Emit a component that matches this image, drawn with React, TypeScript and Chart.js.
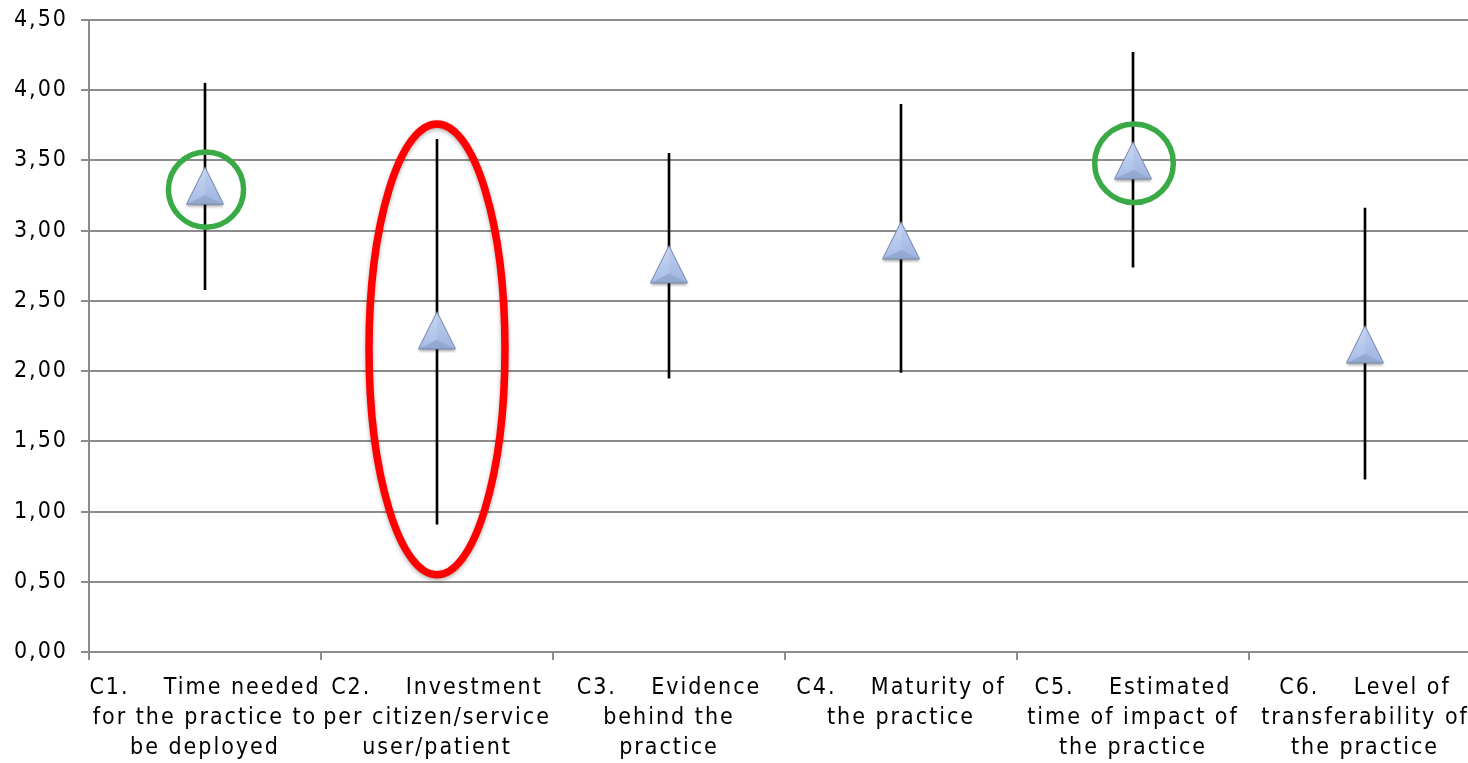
import React, { useEffect, useRef } from "react";
import { Chart, registerables } from "chart.js";
Chart.register(...registerables);

const categories: string[][] = [
  ["C1.    Time needed", "for the practice to", "be deployed"],
  ["C2.    Investment", "per citizen/service", "user/patient"],
  ["C3.    Evidence", "behind the", "practice"],
  ["C4.    Maturity of", "the practice"],
  ["C5.    Estimated", "time of impact of", "the practice"],
  ["C6.    Level of", "transferability of", "the practice"],
];
const meanValues = [3.32, 2.29, 2.76, 2.93, 3.5, 2.19];
const lowValues = [2.58, 0.91, 1.95, 1.99, 2.74, 1.23];
const highValues = [4.05, 3.65, 3.55, 3.9, 4.27, 3.16];
const yMin = 0;
const yMax = 4.5;
const yStep = 0.5;

// highlight marks: category index and vertical extent (value units)
const highlightIndex = [0, 1, 4];
const highlightLow = [3.025, 0.55, 3.2];
const highlightHigh = [3.56, 3.76, 3.76];
const highlightColor = ["#3aaa47", "#ff0000", "#3aaa47"];

const FONT = "'DejaVu Sans Condensed', 'DejaVu Sans', sans-serif";

function makeTriangle(): HTMLCanvasElement {
  const c = document.createElement("canvas");
  c.width = 46;
  c.height = 46;
  const g = c.getContext("2d")!;
  const cx = 23;
  const top = 4.5;
  const bot = 41.5;
  const half = 18.5;
  const ix = cx;
  const iy = top + (bot - top) * 0.76;
  g.save();
  g.shadowColor = "rgba(0,0,0,0.4)";
  g.shadowBlur = 3;
  g.shadowOffsetY = 2;
  g.beginPath();
  g.moveTo(cx, top);
  g.lineTo(cx + half, bot);
  g.lineTo(cx - half, bot);
  g.closePath();
  g.fillStyle = "#a9bee6";
  g.fill();
  g.restore();
  // left facet
  let gr = g.createLinearGradient(0, top, 0, bot);
  gr.addColorStop(0, "#c9d8f3");
  gr.addColorStop(1, "#a8bde6");
  g.beginPath();
  g.moveTo(cx, top);
  g.lineTo(ix, iy);
  g.lineTo(cx - half, bot);
  g.closePath();
  g.fillStyle = gr;
  g.fill();
  // right facet
  gr = g.createLinearGradient(0, top, 0, bot);
  gr.addColorStop(0, "#bfd0f0");
  gr.addColorStop(1, "#9fb5e0");
  g.beginPath();
  g.moveTo(cx, top);
  g.lineTo(cx + half, bot);
  g.lineTo(ix, iy);
  g.closePath();
  g.fillStyle = gr;
  g.fill();
  // bottom facet
  g.beginPath();
  g.moveTo(cx - half, bot);
  g.lineTo(ix, iy);
  g.lineTo(cx + half, bot);
  g.closePath();
  g.fillStyle = "#93a9d2";
  g.fill();
  // outline
  g.beginPath();
  g.moveTo(cx, top);
  g.lineTo(cx + half, bot);
  g.lineTo(cx - half, bot);
  g.closePath();
  g.strokeStyle = "#7488ad";
  g.lineWidth = 1;
  g.stroke();
  return c;
}

const spacingPlugin = {
  id: "spacing",
  beforeLayout(chart: any) {
    chart.ctx.letterSpacing = "2px";
  },
  beforeDraw(chart: any) {
    chart.ctx.letterSpacing = "2px";
  },
};

const highlightPlugin = {
  id: "highlights",
  afterDatasetsDraw(chart: any) {
    const ctx = chart.ctx;
    const x = chart.scales.x;
    const y = chart.scales.y;
    const catW = x.getPixelForValue(1) - x.getPixelForValue(0);
    highlightIndex.forEach((idx, k) => {
      const cxp = x.getPixelForValue(idx);
      const y1 = y.getPixelForValue(highlightHigh[k]);
      const y2 = y.getPixelForValue(highlightLow[k]);
      const cyp = (y1 + y2) / 2;
      const ry = (y2 - y1) / 2;
      const isRed = highlightColor[k] === "#ff0000";
      const rx = isRed ? catW * 0.293 : ry;
      ctx.save();
      if (isRed) {
        ctx.shadowColor = "rgba(0,0,0,0.3)";
        ctx.shadowBlur = 4;
        ctx.shadowOffsetY = 2;
      }
      ctx.beginPath();
      ctx.ellipse(cxp + (isRed ? 0 : 1), cyp, rx, ry, 0, 0, Math.PI * 2);
      ctx.strokeStyle = highlightColor[k];
      ctx.lineWidth = isRed ? 7.5 : 5.5;
      ctx.stroke();
      ctx.restore();
    });
  },
};

export default function App() {
  const ref = useRef<HTMLCanvasElement>(null);
  useEffect(() => {
    document.documentElement.style.overflow = "hidden";
    document.body.style.margin = "8px 0 0 8px";
    const tri = makeTriangle();
    const chart = new Chart(ref.current!, {
      type: "bar",
      data: {
        labels: categories,
        datasets: [
          {
            type: "line",
            data: meanValues,
            showLine: false,
            pointStyle: tri as any,
            pointRadius: 20,
            order: 0,
          } as any,
          {
            type: "bar",
            data: lowValues.map((l, i) => [l, highValues[i]]),
            backgroundColor: "#000000",
            barThickness: 2,
            order: 1,
          } as any,
        ],
      },
      options: {
        animation: false,
        responsive: false,
        maintainAspectRatio: false,
        devicePixelRatio: 1,
        layout: { autoPadding: false, padding: { top: 0, right: 7, bottom: 0, left: 0 } },
        plugins: { legend: { display: false }, tooltip: { enabled: false } },
        scales: {
          x: {
            grid: {
              offset: true,
              drawOnChartArea: false,
              drawTicks: true,
              tickLength: 8,
              color: "#8c8c8c",
              lineWidth: 2,
            },
            border: { color: "#8c8c8c", width: 2 },
            ticks: {
              color: "#000",
              font: { family: FONT, size: 23, lineHeight: 1.3 },
              padding: 13,
              maxRotation: 0,
              autoSkip: false,
            },
            afterFit(scale: any) {
              scale.height = 111;
              scale.paddingLeft = 0;
              scale.paddingRight = 0;
            },
          },
          y: {
            min: yMin,
            max: yMax,
            grid: { color: "#8c8c8c", lineWidth: 2, tickLength: 8 },
            border: { color: "#8c8c8c", width: 2 },
            ticks: {
              stepSize: yStep,
              color: "#000",
              font: { family: FONT, size: 23, lineHeight: 1 },
              padding: 13,
              callback: (v: any) => Number(v).toFixed(2).replace(".", ","),
            },
            afterFit(scale: any) {
              scale.width = 81;
              scale.paddingTop = 12;
              scale.paddingBottom = 0;
            },
          },
        },
      },
      plugins: [spacingPlugin, highlightPlugin],
    });
    return () => chart.destroy();
  }, []);
  return (
    <div style={{ width: 1460, height: 755, overflow: "hidden", position: "relative" }}>
      <canvas ref={ref} width={1480} height={755} style={{ width: 1480, height: 755, display: "block" }} />
    </div>
  );
}
